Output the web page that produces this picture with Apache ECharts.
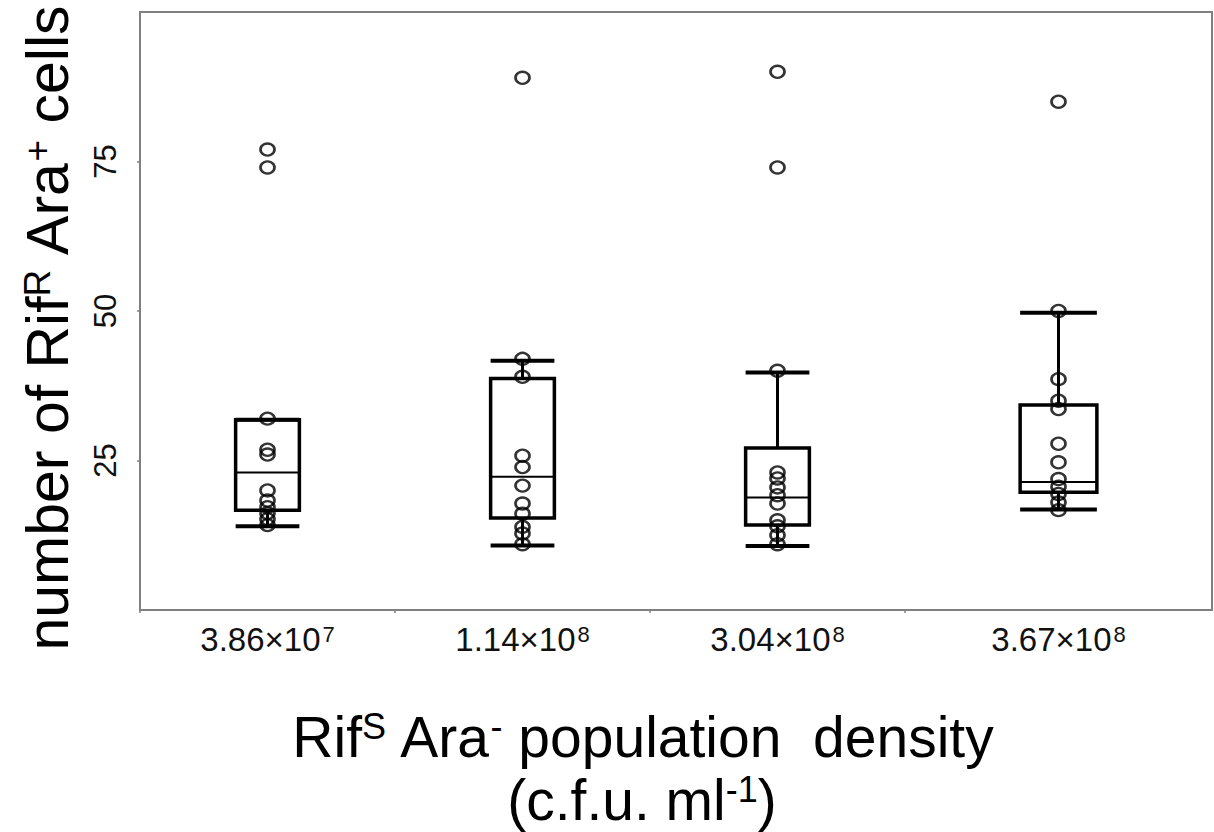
<!DOCTYPE html>
<html>
<head>
<meta charset="utf-8">
<script src="https://cdn.jsdelivr.net/npm/echarts@6/dist/echarts.min.js"></script>
<style>
  html, body { margin: 0; padding: 0; background: #fff; }
  #chart { width: 1214px; height: 832px; }
</style>
</head>
<body>
<div id="chart"></div>
<script>
// ---------------- data ----------------
const categories = ['3.86×10^7', '1.14×10^8', '3.04×10^8', '3.67×10^8'];

// box statistics
const boxLow    = [14.0, 10.8, 10.7, 16.8];
const boxQ1     = [16.7, 15.4, 14.2, 19.7];
const boxMedian = [23.0, 22.3, 18.8, 21.4];
const boxQ3     = [31.8, 38.7, 27.1, 34.3];
const boxHigh   = [31.8, 41.7, 39.7, 49.7];

// individual observations per group
const points1 = [77, 74, 32, 26.8, 26, 20, 18.3, 17.2, 16.2, 15.2, 14.2];
const points2 = [89, 42, 39, 25.8, 23.9, 20.8, 17.8, 16.1, 13.9, 12.8, 11];
const points3 = [90, 74, 40, 23, 22, 20.5, 19.2, 17.8, 15, 14, 12.5, 11];
const points4 = [85, 50, 38.6, 35, 33.6, 27.8, 24.7, 21.9, 20.6, 19.4, 18, 16.7];
const pointGroups = [points1, points2, points3, points4];

const yTicks = { min: 0, max: 100, interval: 25 };

// ---------------- chart ----------------
const FONT = '"Liberation Sans", Arial, Helvetica, sans-serif';
const FRAME = '#808080';
// the first three groups share one panel, the last one sits in a wider band
const panelOf = i => (i < 3 ? 0 : 1);
const localIdx = i => (i < 3 ? i : i - 3);
const panelCats = [categories.slice(0, 3), categories.slice(3)];

function boxData(panel) {
  const out = [];
  categories.forEach((c, i) => {
    if (panelOf(i) === panel) {
      out.push([localIdx(i), boxLow[i], boxQ1[i], boxMedian[i], boxQ3[i], boxHigh[i]]);
    }
  });
  return out;
}
function pointData(panel) {
  const out = [];
  pointGroups.forEach((g, i) => {
    if (panelOf(i) === panel) g.forEach(v => out.push([localIdx(i), v]));
  });
  return out;
}

function renderBox(params, api) {
  const x = api.value(0);
  const vals = [1, 2, 3, 4, 5].map(k => api.value(k));
  const p = vals.map(v => api.coord([x, v]));
  const cx = p[2][0];
  const bw = api.size([1, 0])[0] * 0.25;
  const stroke = '#000';
  return {
    type: 'group',
    children: [
      { type: 'line', shape: { x1: cx, y1: p[0][1], x2: cx, y2: p[1][1] }, style: { stroke, lineWidth: 3 } },
      { type: 'line', shape: { x1: cx, y1: p[3][1], x2: cx, y2: p[4][1] }, style: { stroke, lineWidth: 3 } },
      { type: 'line', shape: { x1: cx - bw / 2, y1: p[0][1], x2: cx + bw / 2, y2: p[0][1] }, style: { stroke, lineWidth: 4 } },
      { type: 'line', shape: { x1: cx - bw / 2, y1: p[4][1], x2: cx + bw / 2, y2: p[4][1] }, style: { stroke, lineWidth: 4 } },
      { type: 'rect', shape: { x: cx - bw / 2, y: p[3][1], width: bw, height: p[1][1] - p[3][1] },
        style: { stroke, fill: 'none', lineWidth: 3.5 } },
      { type: 'line', shape: { x1: cx - bw / 2, y1: p[2][1], x2: cx + bw / 2, y2: p[2][1] }, style: { stroke, lineWidth: 2 } }
    ]
  };
}

const labelRich = {
  m: { fontFamily: FONT, fontSize: 33, color: '#111' },
  e: { fontFamily: FONT, fontSize: 22, color: '#111', verticalAlign: 'top', padding: [0, 0, 0, 2] }
};
function catLabel(val) {
  const parts = String(val).split('^');
  return '{m|' + parts[0] + '}{e|' + parts[1] + '}';
}

function bottomAxis(panel) {
  return {
    type: 'category', gridIndex: panel, position: 'bottom', data: panelCats[panel],
    boundaryGap: true,
    axisLine: { show: true, lineStyle: { color: FRAME, width: 2 } },
    axisTick: { show: panel === 0, length: 3, lineStyle: { color: FRAME, width: 1.5 } },
    axisLabel: { show: true, margin: 13, formatter: catLabel, rich: labelRich },
    splitLine: { show: false }
  };
}
function topAxis(panel) {
  return {
    type: 'category', gridIndex: panel, position: 'top', data: panelCats[panel],
    axisLine: { show: true, lineStyle: { color: FRAME, width: 2 } },
    axisTick: { show: false }, axisLabel: { show: false }, splitLine: { show: false }
  };
}

const supRich = (size, supSize) => ({
  n: { fontFamily: FONT, fontSize: size, color: '#000' },
  s: { fontFamily: FONT, fontSize: supSize, color: '#000', verticalAlign: 'top' }
});

const option = {
  backgroundColor: '#fff',
  animation: false,
  grid: [
    { left: 140, right: 1214 - 905, top: 12, bottom: 832 - 610 },
    { left: 905, right: 2, top: 12, bottom: 832 - 610 }
  ],
  xAxis: [bottomAxis(0), bottomAxis(1), topAxis(0), topAxis(1)],
  yAxis: [
    {
      type: 'value', gridIndex: 0, position: 'left',
      min: yTicks.min, max: yTicks.max, interval: yTicks.interval,
      axisLine: { show: true, lineStyle: { color: FRAME, width: 2 } },
      axisTick: { show: true, length: 3, lineStyle: { color: FRAME, width: 1.5 } },
      axisLabel: { show: true, rotate: 90, margin: 19, showMinLabel: false, showMaxLabel: false,
        fontFamily: FONT, fontSize: 31, color: '#111' },
      splitLine: { show: false }
    },
    {
      type: 'value', gridIndex: 1, position: 'right',
      min: yTicks.min, max: yTicks.max, interval: yTicks.interval,
      axisLine: { show: true, lineStyle: { color: FRAME, width: 2 } },
      axisTick: { show: false }, axisLabel: { show: false }, splitLine: { show: false }
    }
  ],
  graphic: [
    {
      type: 'text', x: 48, y: 328, rotation: Math.PI / 2,
      style: {
        text: '{n|number of Rif}{s|R}{n| Ara}{s|+}{n| cells}',
        rich: supRich(59, 37), align: 'center', verticalAlign: 'middle'
      }
    },
    {
      type: 'text', x: 643, y: 737,
      style: {
        text: '{n|Rif}{s|S}{n| Ara}{s|-}{n| population  density}',
        rich: supRich(57, 36), align: 'center', verticalAlign: 'middle'
      }
    },
    {
      type: 'text', x: 642, y: 800,
      style: {
        text: '{n|(c.f.u. ml}{s|-1}{n|)}',
        rich: supRich(57, 36), align: 'center', verticalAlign: 'middle'
      }
    }
  ],
  series: [0, 1].flatMap(panel => [
    {
      type: 'custom', xAxisIndex: panel, yAxisIndex: panel,
      renderItem: renderBox, data: boxData(panel),
      encode: { x: 0, y: [1, 2, 3, 4, 5] }, silent: true, z: 2
    },
    {
      type: 'scatter', xAxisIndex: panel, yAxisIndex: panel,
      data: pointData(panel), symbol: 'circle', symbolSize: [14, 12],
      itemStyle: { color: 'rgba(0,0,0,0)', borderColor: '#000', borderWidth: 2.5 },
      silent: true, z: 3
    }
  ])
};

const chart = echarts.init(document.getElementById('chart'), null, { renderer: 'svg' });
chart.setOption(option);
</script>
</body>
</html>
